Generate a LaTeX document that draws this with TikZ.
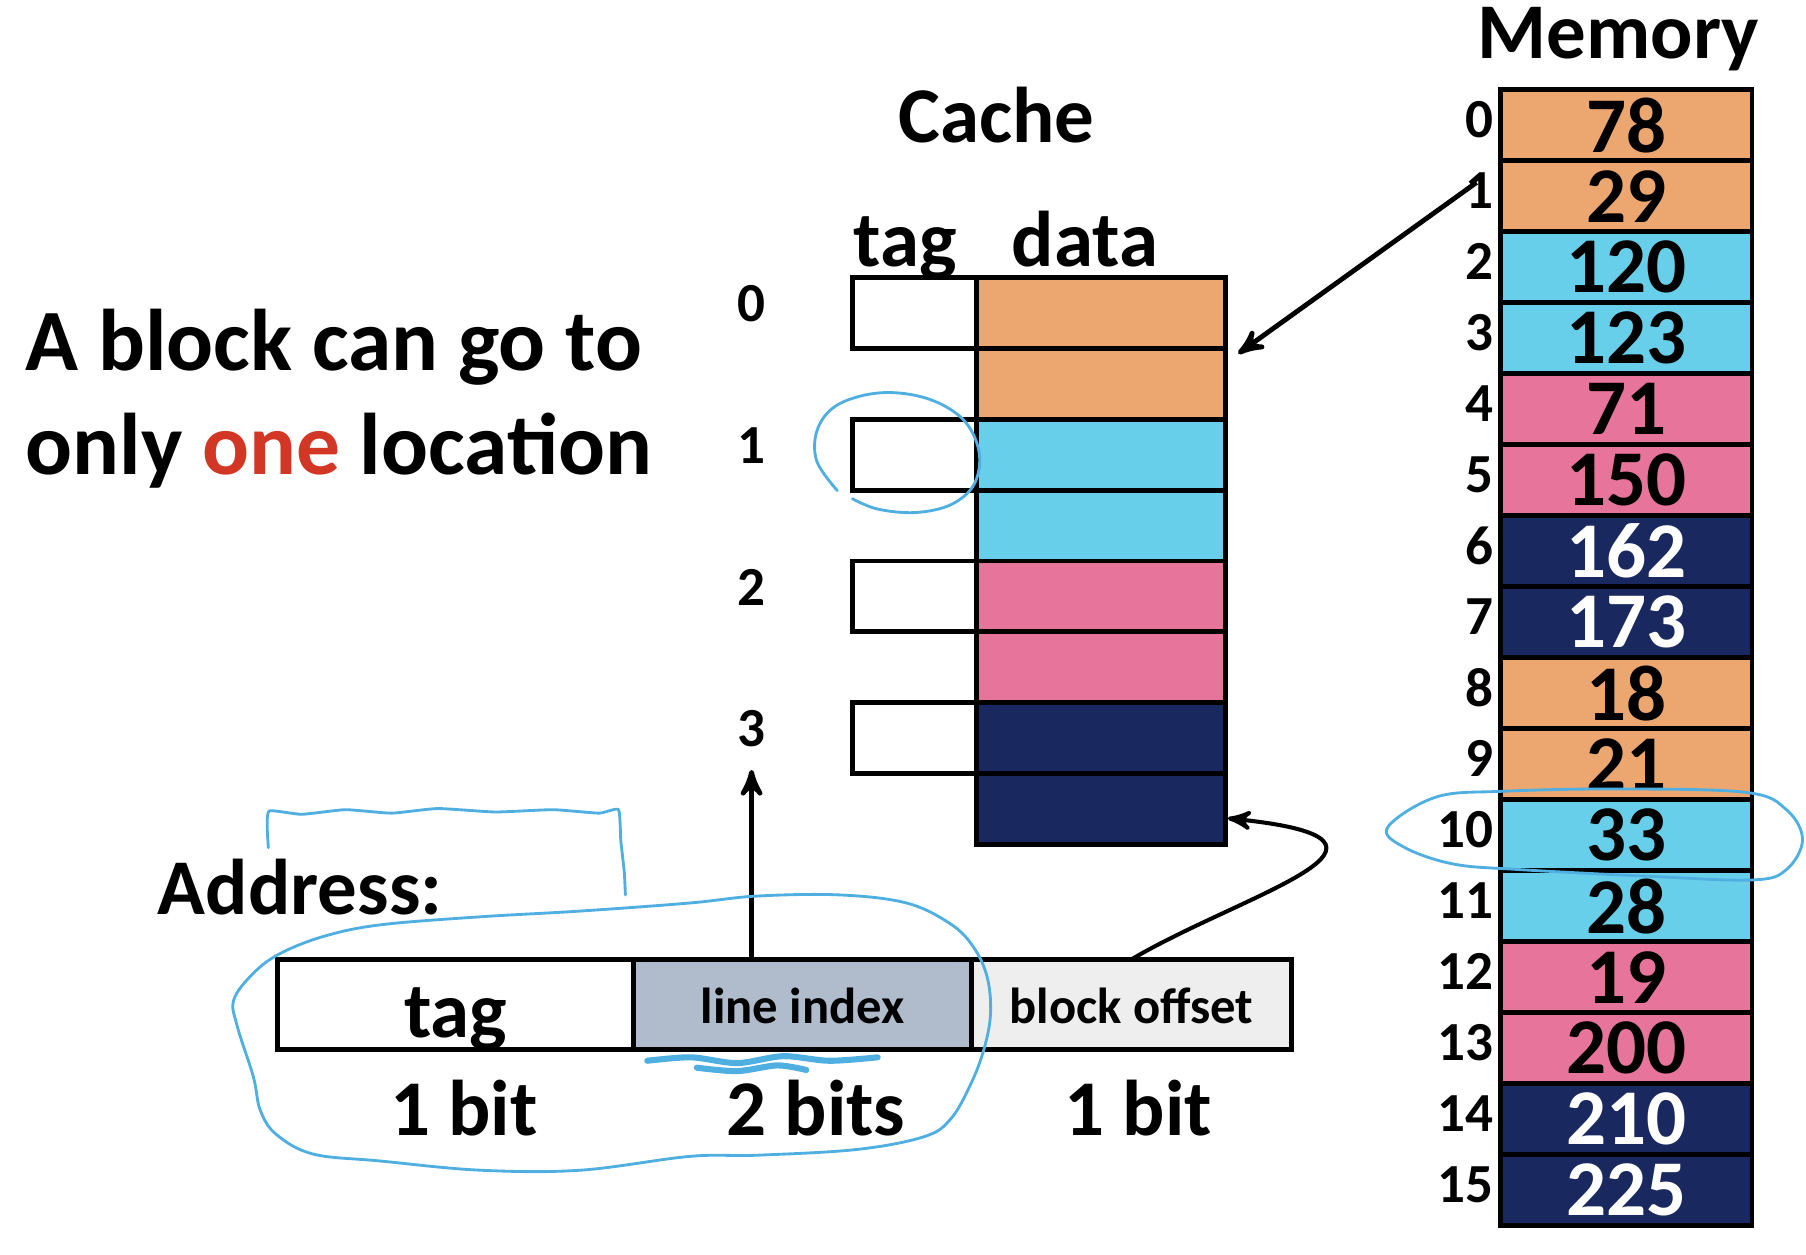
\documentclass[tikz,border=0pt]{standalone}
\usepackage{fontspec}
\setmainfont{Carlito}
\usetikzlibrary{arrows,calc,positioning}

\definecolor{blkorange}{RGB}{236,166,111}
\definecolor{blkcyan}{RGB}{104,207,235}
\definecolor{blkpink}{RGB}{231,116,155}
\definecolor{blknavy}{RGB}{26,40,96}
\definecolor{idxgray}{RGB}{176,188,204}
\definecolor{offgray}{RGB}{238,238,238}
\definecolor{onered}{RGB}{210,55,38}
\definecolor{penblue}{RGB}{80,175,225}

\begin{document}
\begin{tikzpicture}[x=0.01cm, y=-0.01cm, >=stealth', line width=1.2pt,
    big/.style      ={font=\fontsize{19.5}{23}\selectfont\bfseries, inner sep=0pt},
    small/.style    ={font=\fontsize{13.6}{15}\selectfont\bfseries, inner sep=1.3pt, text=black},
    cellbox/.style  ={draw, outer sep=0pt, inner sep=0pt},
    mem/.style      ={cellbox, big, minimum width=2.18cm, minimum height=0.616cm},
    dataline/.style ={cellbox, minimum width=2.16cm, minimum height=0.615cm},
    tagbox/.style   ={cellbox, fill=white, minimum width=1.08cm, minimum height=0.615cm},
    field/.style    ={cellbox, minimum height=0.78cm, text depth=0pt},
    fieldtxt/.style ={font=\fontsize{12.5}{14}\selectfont\bfseries, text height=0.33cm},
    c0/.style={fill=blkorange}, c1/.style={fill=blkcyan},
    c2/.style={fill=blkpink},   c3/.style={fill=blknavy, text=white},
    memno/.style    ={small, yshift=0.05cm},
    penmark/.style  ={draw=penblue, line width=0.7pt, line cap=round, line join=round}]

    \path[use as bounding box, fill=white] (0,0) rectangle (1568,1089);

    % memory
    \node[big, anchor=base]              (memtitle)  at (1405,51)            {Memory};
    \node[mem, c0, label={[memno]left:0}]  (m0)      at (1412,108.8)         {78};
    \node[mem, c0, label={[memno]left:1}]  (m1)      [below=0pt of m0]       {29};
    \node[mem, c1, label={[memno]left:2}]  (m2)      [below=0pt of m1]       {120};
    \node[mem, c1, label={[memno]left:3}]  (m3)      [below=0pt of m2]       {123};
    \node[mem, c2, label={[memno]left:4}]  (m4)      [below=0pt of m3]       {71};
    \node[mem, c2, label={[memno]left:5}]  (m5)      [below=0pt of m4]       {150};
    \node[mem, c3, label={[memno]left:6}]  (m6)      [below=0pt of m5]       {162};
    \node[mem, c3, label={[memno]left:7}]  (m7)      [below=0pt of m6]       {173};
    \node[mem, c0, label={[memno]left:8}]  (m8)      [below=0pt of m7]       {18};
    \node[mem, c0, label={[memno]left:9}]  (m9)      [below=0pt of m8]       {21};
    \node[mem, c1, label={[memno]left:10}] (m10)     [below=0pt of m9]       {33};
    \node[mem, c1, label={[memno]left:11}] (m11)     [below=0pt of m10]      {28};
    \node[mem, c2, label={[memno]left:12}] (m12)     [below=0pt of m11]      {19};
    \node[mem, c2, label={[memno]left:13}] (m13)     [below=0pt of m12]      {200};
    \node[mem, c3, label={[memno]left:14}] (m14)     [below=0pt of m13]      {210};
    \node[mem, c3, label={[memno]left:15}] (m15)     [below=0pt of m14]      {225};

    % cache
    \node[big, anchor=base]              (cachetitle) at (865,124)           {Cache};
    \node[dataline, c0]                  (d0)        at (956,271.75)         {};
    \node[dataline, c0]                  (d1)        [below=0pt of d0]       {};
    \node[dataline, c1]                  (d2)        [below=0pt of d1]       {};
    \node[dataline, c1]                  (d3)        [below=0pt of d2]       {};
    \node[dataline, c2]                  (d4)        [below=0pt of d3]       {};
    \node[dataline, c2]                  (d5)        [below=0pt of d4]       {};
    \node[dataline, c3]                  (d6)        [below=0pt of d5]       {};
    \node[dataline, c3]                  (d7)        [below=0pt of d6]       {};
    \node[tagbox]                        (t0)        [left=0pt of d0]        {};
    \node[tagbox]                        (t1)        [left=0pt of d2]        {};
    \node[tagbox]                        (t2)        [left=0pt of d4]        {};
    \node[tagbox]                        (t3)        [left=0pt of d6]        {};
    \node[big, anchor=base]              (taghead)   at (786,231.5)          {tag};
    \node[big, anchor=base]              (datahead)  at (942,231.5)          {data};
    \node[small, yshift=0.08cm]          (l0)        [left=0.685cm of t0]    {0};
    \node[small, yshift=0.08cm]          (l1)        [left=0.685cm of t1]    {1};
    \node[small, yshift=0.08cm]          (l2)        [left=0.685cm of t2]    {2};
    \node[small, yshift=0.08cm]          (l3)        [left=0.685cm of t3]    {3};

    % text on the left
    \node[font=\fontsize{21.6}{25.8}\selectfont\bfseries, align=left, inner sep=0pt, anchor=base west]
                                         (blurb)     at (20,412)
        {A block can go to\\only \textcolor{onered}{one} location};

    % address
    \node[big, anchor=base west]         (addr)      at (135,794)            {Address:};
    \node[field, big, minimum width=3.09cm, text height=0.58cm]
                                         (atag)      at (395.5,872)          {tag};
    \node[field, fieldtxt, fill=idxgray, minimum width=2.93cm]
                                         (aidx)      [right=0pt of atag]     {line index};
    \node[field, fieldtxt, fill=offgray, minimum width=2.78cm]
                                         (aoff)      [right=0pt of aidx]     {block offset};
    \node[big, anchor=base]              (tagbits)   at ($(atag.south)+(7.5,74.5)$)  {1 bit};
    \node[big, anchor=base]              (idxbits)   at ($(aidx.south)+(11.8,74.5)$) {2 bits};
    \node[big, anchor=base]              (offbits)   at ($(aoff.south)+(6,74.5)$)    {1 bit};

    % connectors
    \draw[->] ($(m1.west)+(-21,-12)$) -- ($(d0.south east)+(11,4.5)$);
    \draw[->] (l3 |- aidx.north) -- ([yshift=-0.13cm]l3.south);
    \draw[->, line width=1pt] (aoff.north) .. controls ($(aoff.north)+(96,-57)$) and ($(d7.east)+(191,27)$) .. ($(d7.east)+(2,8)$);

    % pen marks
    \draw[penmark] plot[smooth, tension=0.6] coordinates {(727,426) (709,400) (710,372) (728,351) (765,341) (805,346) (836,364) (850,392) (846,420) (826,438) (795,445) (762,442) (740,433)};
    \draw[penmark] plot[smooth, tension=0.3] coordinates {(233,736) (232,718) (234,704) (262,707) (300,703) (340,706) (380,702) (430,705) (480,703) (520,706) (537,703) (539,730) (542,757) (543,777)};
    \draw[penmark] plot[smooth cycle, tension=0.6] coordinates {(203,868) (220,845) (243,828) (281,813) (330,803) (417,796) (504,791) (599,784) (657,778) (729,777) (787,784) (825,802) (845,822) (857,848) (860,880) (854,912) (842,943) (825,972) (802,987) (744,998) (657,1003) (599,1004) (504,1016) (417,1016) (330,1008) (272,1002) (240,985) (226,964) (220,935) (206,891)};
    \draw[penmark, line width=1.5pt] plot[smooth] coordinates {(562,921) (600,918) (640,923) (680,917) (720,921) (762,918)};
    \draw[penmark, line width=1.5pt] plot[smooth] coordinates {(605,927) (640,930) (675,925) (700,929)};
    \draw[penmark] plot[smooth cycle, tension=0.6] coordinates {(1205,718) (1247,692) (1305,687) (1406,685) (1516,688) (1551,703) (1565,729) (1551,755) (1522,764) (1435,761) (1319,755) (1261,750) (1218,735)};
\end{tikzpicture}
\end{document}
